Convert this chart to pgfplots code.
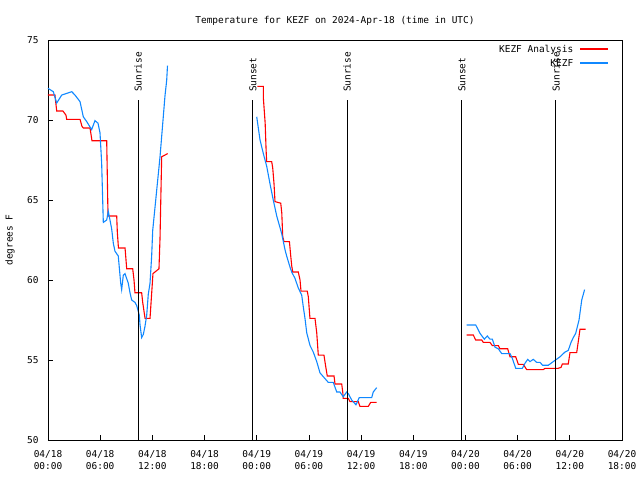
\documentclass[border=0pt]{standalone}
\usepackage{pgfplots}
\pgfplotsset{compat=1.18}
\usepackage{fontspec}
\setmainfont{DejaVu Sans Mono}
\definecolor{obsblue}{RGB}{16,136,255}
\definecolor{anared}{RGB}{255,0,0}
\newcommand{\legline}[1]{\hspace{6bp}\tikz[baseline=0pt]\draw[#1, line width=1.6bp] (0bp,3.5bp) -- (28bp,3.5bp);}
\begin{document}
\fontsize{9.5}{11}\selectfont
\begin{tikzpicture}
\begin{axis}[
  at={(0,0)}, anchor=south west,
  scale only axis, width=574bp, height=400bp,
  xmin=0, xmax=66, ymin=50, ymax=75,
  clip=false,
  xtick={0,6,...,66},
  xticklabels={{04/18\\00:00},{04/18\\06:00},{04/18\\12:00},{04/18\\18:00},{04/19\\00:00},{04/19\\06:00},{04/19\\12:00},{04/19\\18:00},{04/20\\00:00},{04/20\\06:00},{04/20\\12:00},{04/20\\18:00}},
  xticklabel style={align=center, font=\fontsize{9.5}{12}\selectfont, yshift=-7bp},
  yticklabel style={xshift=-6bp},
  ytick={50,55,...,75},
  /pgf/number format/assume math mode=true,
  tick align=inside, xtick pos=bottom, ytick pos=left,
  major tick length=5bp,
  tick style={line width=0.8bp, black},
  axis line style={line width=0.8bp},
  title={Temperature for KEZF on 2024-Apr-18 (time in UTC)},
  title style={yshift=5bp},
  ylabel={degrees F},
  ylabel style={at={(axis description cs:-0.0662,0.5)}, anchor=center},
  legend plot pos=none,
  legend cell align=right,
  legend style={draw=none, fill=none, at={(1,1)}, anchor=north east, xshift=-8bp, yshift=-1bp, row sep=2bp},
]
\addplot[anared, line width=1.1bp] coordinates {
(0,71.56) (0.80,71.56) (1.0,70.56) (1.72,70.56) (2.07,70.3) (2.15,70.04) (3.68,70.04) (3.91,69.6) (4.06,69.5) (4.83,69.5) (5.06,68.7) (6.75,68.7) (6.9,64.0) (7.9,64.0) (7.97,63.0) (8.1,62.0) (8.86,62.0) (9.05,60.7) (9.74,60.7) (9.89,60.0) (10.0,59.2) (10.77,59.2) (10.89,58.6) (11.16,57.6) (11.73,57.6) (11.9,59.0) (12.07,60.4) (12.76,60.7) (12.88,62.6) (13.07,67.7) (13.76,67.9)
};
\addlegendentry{KEZF Analysis\legline{anared}}
\addplot[obsblue, line width=1.1bp] coordinates {
(0,71.98) (0.61,71.77) (1.0,71.06) (1.58,71.56) (2.73,71.77) (3.10,71.56) (3.68,71.15) (4.06,70.2) (4.45,69.9) (5.02,69.4) (5.40,69.96) (5.75,69.8) (5.98,69.2) (6.17,67.3) (6.36,63.6) (6.75,63.75) (6.93,64.3) (7.32,63.2) (7.51,62.3) (7.70,61.8) (8.08,61.5) (8.36,59.8) (8.47,59.4) (8.66,60.3) (8.85,60.4) (9.23,59.8) (9.43,59.2) (9.62,58.75) (10.0,58.6) (10.2,58.4) (10.5,57.8) (10.58,57.2) (10.77,56.4) (10.96,56.6) (11.15,57.1) (11.35,57.8) (11.53,59.1) (11.73,59.8) (11.92,61.5) (12.04,63.1) (12.88,67.7) (13.45,71.5) (13.65,72.5) (13.74,73.4)
};
\addlegendentry{KEZF\legline{obsblue}}
\addplot[anared, line width=1.1bp, forget plot] coordinates {
(24.07,72.1) (24.76,72.1) (24.76,71.4) (24.97,69.8) (25.08,68.1) (25.14,67.4) (25.72,67.4) (25.84,67.0) (25.99,66.0) (26.1,64.9) (26.76,64.8) (26.88,64.2) (26.99,62.7) (27.14,62.4) (27.76,62.4) (27.9,61.56) (28.02,60.9) (28.14,60.5) (28.78,60.5) (28.98,60.0) (29.09,59.3) (29.81,59.3) (29.93,58.96) (30.12,57.6) (30.7,57.6) (30.9,56.7) (31.08,55.3) (31.73,55.3) (31.93,54.6) (32.11,54.0) (32.89,54.0) (33.0,53.5) (33.77,53.5) (33.89,53.0) (33.95,52.6) (34.53,52.6) (34.72,52.4) (35.68,52.4) (35.87,52.1) (36.83,52.1) (37.1,52.35) (37.79,52.35)
};
\addplot[obsblue, line width=1.1bp, forget plot] coordinates {
(24.0,70.2) (24.38,68.75) (24.76,67.9) (25.15,67.1) (25.53,66.0) (25.9,65.0) (26.3,64.0) (26.87,62.9) (27.25,61.9) (27.44,61.5) (27.83,60.8) (28.02,60.5) (28.4,60.1) (28.78,59.5) (29.17,59.06) (29.36,58.3) (29.55,57.6) (29.75,56.7) (30.13,55.9) (30.5,55.5) (30.9,54.9) (31.27,54.2) (31.65,53.96) (32.23,53.6) (32.8,53.6) (33.2,53.0) (33.57,53.0) (33.95,52.7) (34.34,53.0) (34.53,52.9) (34.92,52.5) (35.41,52.2) (35.79,52.65) (37.22,52.65) (37.4,53.0) (37.79,53.27)
};
\addplot[anared, line width=1.1bp, forget plot] coordinates {
(48.14,56.56) (48.9,56.56) (49.18,56.25) (49.87,56.25) (50.05,56.1) (50.82,56.1) (51.09,55.9) (51.78,55.9) (51.97,55.7) (52.86,55.7) (53.12,55.2) (53.78,55.2) (54.08,54.73) (54.65,54.73) (55.04,54.4) (56.95,54.4) (57.15,54.48) (58.67,54.48) (58.99,54.54) (59.14,54.75) (59.82,54.75) (60.02,55.46) (60.79,55.46) (60.97,56.14) (61.17,56.92) (61.83,56.92)
};
\addplot[obsblue, line width=1.1bp, forget plot] coordinates {
(48.14,57.19) (49.18,57.19) (49.67,56.67) (50.17,56.3) (50.51,56.5) (50.82,56.3) (51.09,56.3) (51.4,55.8) (51.78,55.7) (52.17,55.4) (53.12,55.4) (53.39,55.1) (53.78,54.48) (54.54,54.48) (54.85,54.8) (55.16,55.04) (55.42,54.9) (55.8,55.04) (56.19,54.85) (56.57,54.85) (56.88,54.67) (57.52,54.67) (58.1,54.9) (58.87,55.2) (59.45,55.5) (59.82,55.6) (60.14,56.1) (60.4,56.4) (60.68,56.67) (61.06,57.5) (61.37,58.75) (61.7,59.4)
};
% sunrise / sunset markers
\addplot[black, line width=1bp, forget plot] coordinates {(10.35,50) (10.35,71.25)};
\addplot[black, line width=1bp, forget plot] coordinates {(23.57,50) (23.57,71.25)};
\addplot[black, line width=1bp, forget plot] coordinates {(34.38,50) (34.38,71.25)};
\addplot[black, line width=1bp, forget plot] coordinates {(47.6,50) (47.6,71.25)};
\addplot[black, line width=1bp, forget plot] coordinates {(58.41,50) (58.41,71.25)};
\node[rotate=90, anchor=west, inner sep=0pt] at (axis cs:10.35,71.75) {Sunrise};
\node[rotate=90, anchor=west, inner sep=0pt] at (axis cs:23.57,71.75) {Sunset};
\node[rotate=90, anchor=west, inner sep=0pt] at (axis cs:34.38,71.75) {Sunrise};
\node[rotate=90, anchor=west, inner sep=0pt] at (axis cs:47.6,71.75) {Sunset};
\node[rotate=90, anchor=west, inner sep=0pt] at (axis cs:58.41,71.75) {Sunrise};
\end{axis}
\path (-48bp,-40bp) rectangle (592bp,440bp);
\end{tikzpicture}
\end{document}
